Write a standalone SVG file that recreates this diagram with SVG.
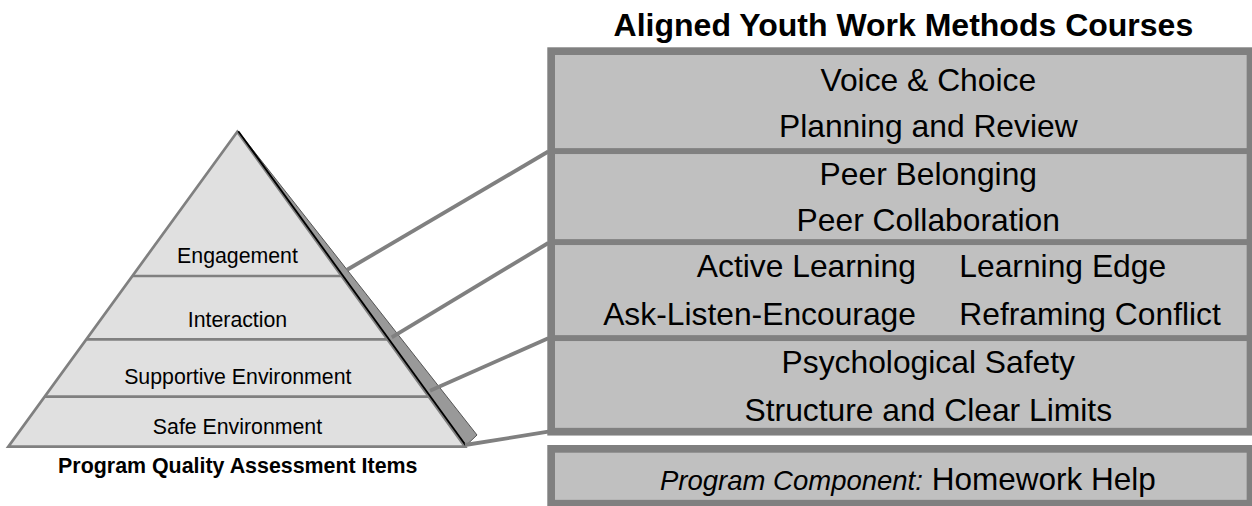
<svg xmlns="http://www.w3.org/2000/svg" width="1252" height="506" viewBox="0 0 1252 506">
  <style>
    .lbl { font-family: "Liberation Sans", Arial, sans-serif; fill: #000; }
    .pyr { font-size: 21.3px; text-anchor: middle; }
    .box { font-size: 31.8px; }
    .mid { text-anchor: middle; }
    .end { text-anchor: end; }
    .ttl { font-size: 32px; font-weight: bold; text-anchor: middle; }
    .cap { font-size: 21.4px; font-weight: bold; text-anchor: middle; }
    .boxr { fill: #c0c0c0; stroke: #808080; stroke-width: 5.7; }
    .frame { fill: none; stroke: #808080; stroke-width: 7.7; }
    .layer { stroke: #808080; stroke-width: 2.7; fill: none; }
    .conn { stroke: #808080; stroke-width: 3.8; fill: none; }
  </style>

  <g id="title">
    <text class="lbl ttl" x="903.4" y="36">Aligned Youth Work Methods Courses</text>
  </g>

  <g id="pyramid">
    <polygon points="237.3,131.7 465,446.7 8.3,446.7" fill="#e0e0e0" stroke="#808080" stroke-width="2.7" stroke-linejoin="miter"/>
    <line class="layer" x1="132.4" y1="276" x2="341.6" y2="276"/>
    <line class="layer" x1="86.4" y1="339.3" x2="387.4" y2="339.3"/>
    <line class="layer" x1="44.6" y1="396.7" x2="428.9" y2="396.7"/>
    <polygon points="238.5,131.7 466,445.5 477,435" fill="#999999" stroke="#555555" stroke-width="1"/>
    <line x1="238.3" y1="131.2" x2="466" y2="445.8" stroke="#000" stroke-width="1.8"/>
  </g>

  <g id="engagement">
    <text class="lbl pyr" x="237.5" y="262.7">Engagement</text>
  </g>
  <g id="interaction">
    <text class="lbl pyr" x="237.5" y="326.7">Interaction</text>
  </g>
  <g id="supportive-environment">
    <text class="lbl pyr" x="237.8" y="384">Supportive Environment</text>
  </g>
  <g id="safe-environment">
    <text class="lbl pyr" x="237.5" y="434.3">Safe Environment</text>
  </g>
  <g id="pyramid-caption">
    <text class="lbl cap" x="237.8" y="472.7">Program Quality Assessment Items</text>
  </g>

  <g id="box-voice">
    <rect class="boxr" x="551.15" y="51.15" width="699.35" height="100.05"/>
    <text class="lbl box mid" x="928.3" y="90.7">Voice &amp; Choice</text>
    <text class="lbl box mid" x="928.3" y="136.7">Planning and Review</text>
  </g>
  <g id="box-peer">
    <rect class="boxr" x="551.15" y="151.2" width="699.35" height="91"/>
    <text class="lbl box mid" x="928.3" y="185">Peer Belonging</text>
    <text class="lbl box mid" x="928.3" y="230.7">Peer Collaboration</text>
  </g>
  <g id="box-learning">
    <rect class="boxr" x="551.15" y="242.2" width="699.35" height="96"/>
    <text class="lbl box end" x="916" y="277.3">Active Learning</text>
    <text class="lbl box" x="959.3" y="277.3">Learning Edge</text>
    <text class="lbl box end" x="916" y="325">Ask-Listen-Encourage</text>
    <text class="lbl box" x="959.3" y="325">Reframing Conflict</text>
  </g>
  <g id="box-safety">
    <rect class="boxr" x="551.15" y="338.2" width="699.35" height="93.5"/>
    <text class="lbl box mid" x="928.3" y="373.3">Psychological Safety</text>
    <text class="lbl box mid" x="928.3" y="420.7">Structure and Clear Limits</text>
  </g>
  <rect class="frame" x="551.15" y="51.15" width="699.35" height="380.55"/>

  <g id="box-homework">
    <rect class="boxr" x="551.15" y="448.85" width="699.35" height="54.85" style="stroke-width:7.7"/>
    <text class="lbl" x="660" y="490"><tspan font-style="italic" font-size="27.5px">Program Component:</tspan><tspan font-size="31.5px"> Homework Help</tspan></text>
  </g>

  <g id="connectors">
    <line class="conn" x1="346.7" y1="270" x2="548.3" y2="151.5"/>
    <line class="conn" x1="391.7" y1="337.3" x2="548.3" y2="243"/>
    <line class="conn" x1="430" y1="390.7" x2="548.3" y2="338.3"/>
    <line class="conn" x1="465" y1="445" x2="548.3" y2="431.7"/>
  </g>
</svg>
